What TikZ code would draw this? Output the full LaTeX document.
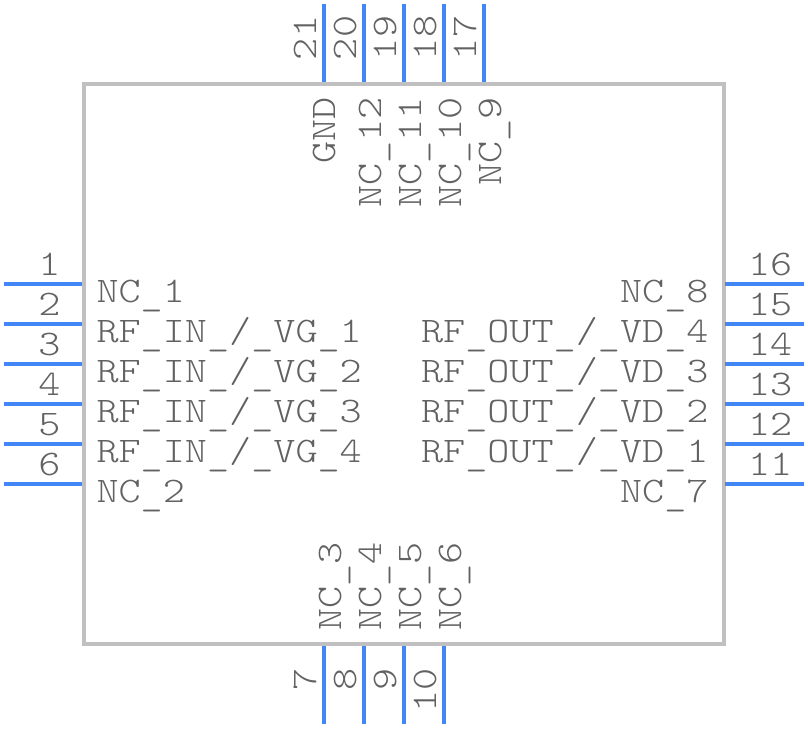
\documentclass[tikz,border=0pt]{standalone}
\usepackage{fontspec}
\setmonofont[FakeStretch=1.17]{Latin Modern Mono Light}
\definecolor{body}{HTML}{C0C0C0}
\definecolor{pin}{HTML}{4287F5}
\definecolor{ink}{HTML}{626262}
\newcommand{\us}{\raisebox{-3.5pt}{\_}}
\tikzset{
  bodybox/.style={draw=body,line width=4pt,fill=white,outer sep=0pt},
  pinline/.style={draw=pin,line width=4pt},
  lbl/.style={text=ink,inner sep=0pt,outer sep=0pt,font=\fontsize{36}{36}\selectfont\ttfamily},
  lblw/.style={lbl,anchor=base west},
  lble/.style={lbl,anchor=base east},
  lblupw/.style={lbl,anchor=base west,rotate=90},
  lblupe/.style={lbl,anchor=base east,rotate=90}
}
\begin{document}
\begin{tikzpicture}[x=1pt,y=-1pt]
\useasboundingbox (0,0) rectangle (808,728);
\node[bodybox,minimum width=640pt,minimum height=560pt,inner sep=0pt,anchor=north west] (chip) at (83.5,83.5) {};
% left
\foreach \n/\yy/\name in {1/284/{NC\us1},2/324/{RF\us IN\us/\us VG\us1},3/364/{RF\us IN\us/\us VG\us2},4/404/{RF\us IN\us/\us VG\us3},5/444/{RF\us IN\us/\us VG\us4},6/484/{NC\us2}}{
  \coordinate (p\n) at (4,\yy);
  \coordinate (q\n) at (82,\yy);
  \draw[pinline] (p\n) -- (q\n);
  \node[lble] (num\n) at (60.5,\yy-9) {\n};
  \node[lblw] (nm\n) at (96.5,\yy+18) {\name};
}
% right
\foreach \n/\yy/\name in {16/284/{NC\us8},15/324/{RF\us OUT\us/\us VD\us4},14/364/{RF\us OUT\us/\us VD\us3},13/404/{RF\us OUT\us/\us VD\us2},12/444/{RF\us OUT\us/\us VD\us1},11/484/{NC\us7}}{
  \coordinate (p\n) at (804,\yy);
  \coordinate (q\n) at (725,\yy);
  \draw[pinline] (p\n) -- (q\n);
  \node[lblw] (num\n) at (748,\yy-9) {\n};
  \node[lble] (nm\n) at (708.5,\yy+18) {\name};
}
% top
\foreach \n/\xx/\name/\off in {21/324/GND/11.5,20/364/{NC\us12}/17,19/404/{NC\us11}/17,18/444/{NC\us10}/17,17/484/{NC\us9}/17}{
  \coordinate (p\n) at (\xx,4);
  \coordinate (q\n) at (\xx,82);
  \draw[pinline] (p\n) -- (q\n);
  \node[lblupw] (num\n) at (\xx-8,60) {\n};
  \node[lblupe] (nm\n) at (\xx+\off,97) {\name};
}
% bottom
\foreach \n/\xx/\name in {7/324/{NC\us3},8/364/{NC\us4},9/404/{NC\us5},10/444/{NC\us6}}{
  \coordinate (p\n) at (\xx,724);
  \coordinate (q\n) at (\xx,646);
  \draw[pinline] (p\n) -- (q\n);
  \node[lblupe] (num\n) at (\xx-8,668) {\n};
  \node[lblupw] (nm\n) at (\xx+17,630.5) {\name};
}
\end{tikzpicture}
\end{document}
